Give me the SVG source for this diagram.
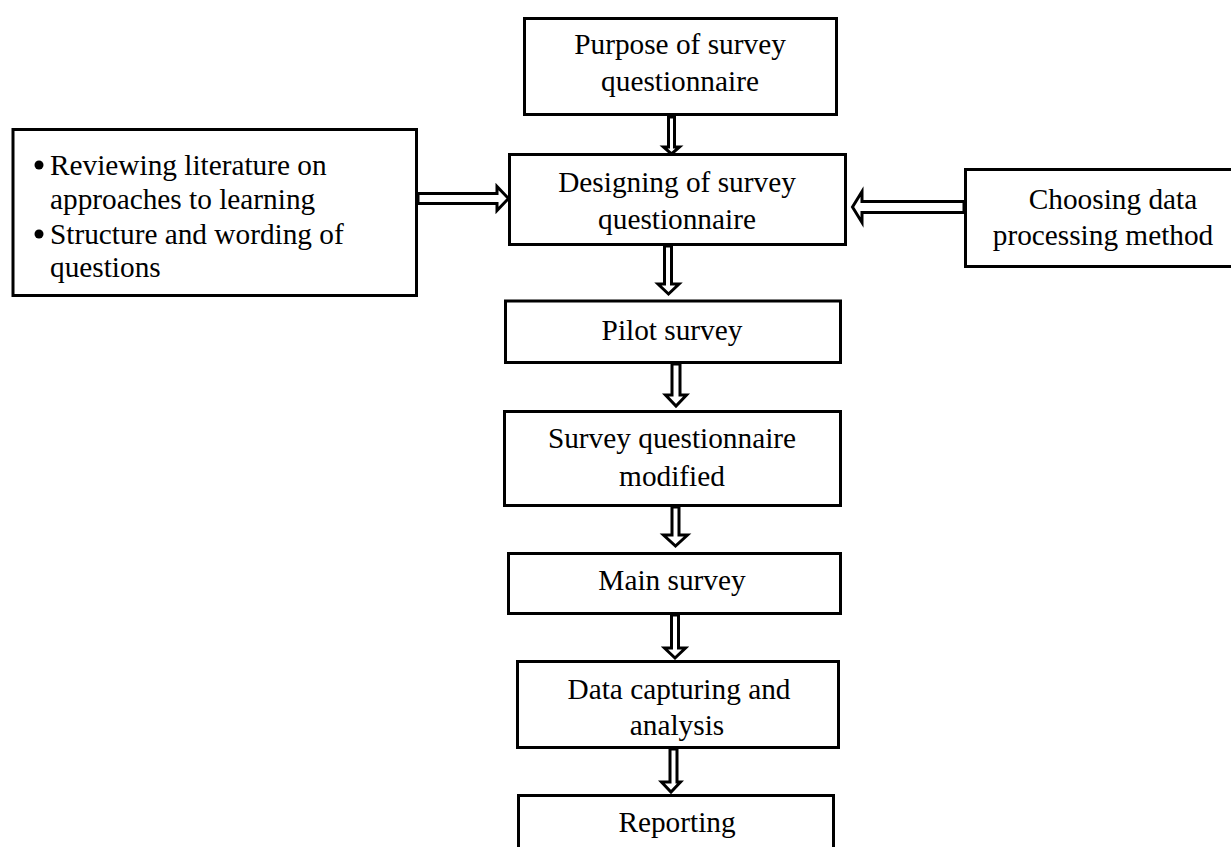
<svg xmlns="http://www.w3.org/2000/svg" width="1231" height="847" viewBox="0 0 1231 847">
<style>
.box{fill:#fff;stroke:#000;stroke-width:3}
.arr{fill:#fff;stroke:#000;stroke-width:3;stroke-linejoin:miter;stroke-miterlimit:10}
text{font-family:"Liberation Serif","Times New Roman",serif;font-size:29.3px;fill:#000}
.c{text-anchor:middle}
</style>
<rect width="1231" height="847" fill="#fff"/>
<g id="connectors">
<polygon class="arr" points="668.5,117 668.5,147 663.5,147 671.5,154 679.5,147 674.5,147 674.5,117"/>
<polygon class="arr" points="664.5,246 664.5,284 658,284 668.5,294 679,284 671.5,284 671.5,246"/>
<polygon class="arr" points="672,364 672,395 665.5,395 676,406 686.5,395 680,395 680,364"/>
<polygon class="arr" points="672,507 672,535 663.5,535 675.5,546 687.5,535 679,535 679,507"/>
<polygon class="arr" points="671.5,615 671.5,648 664.5,648 675,658 685.5,648 678.5,648 678.5,615"/>
<polygon class="arr" points="670,749 670,782 661.5,782 671,792 680.5,782 677,782 677,749"/>
<polygon class="arr" points="418,193.5 497,193.5 497,186.5 508.5,198.5 497,210.5 497,203.5 418,203.5"/>
<polygon class="arr" points="964,201.5 862,201.5 862,191.5 852.5,207 862,222.5 862,212.5 964,212.5"/>
</g>
<g id="purpose">
<rect class="box" x="524.5" y="18.5" width="312" height="96"/>
<text class="c" x="680" y="54">Purpose of survey</text>
<text class="c" x="680" y="91">questionnaire</text>
</g>
<g id="designing">
<rect class="box" x="509.5" y="154.5" width="336" height="90"/>
<text class="c" x="677" y="192">Designing of survey</text>
<text class="c" x="677" y="229">questionnaire</text>
</g>
<g id="review">
<rect class="box" x="13" y="129.5" width="403.5" height="166"/>
<circle cx="39" cy="165" r="4.5"/>
<text x="50" y="175">Reviewing literature on</text>
<text x="50" y="209">approaches to learning</text>
<circle cx="39" cy="234" r="4.5"/>
<text x="50" y="244">Structure and wording of</text>
<text x="50" y="277">questions</text>
</g>
<g id="choosing">
<rect class="box" x="965.5" y="169.5" width="270" height="97"/>
<text class="c" x="1113" y="209">Choosing data</text>
<text class="c" x="1103" y="245">processing method</text>
</g>
<g id="pilot">
<rect class="box" x="505.5" y="301" width="335" height="61.5"/>
<text class="c" x="672" y="340">Pilot survey</text>
</g>
<g id="modified">
<rect class="box" x="504.5" y="411.5" width="336" height="94"/>
<text class="c" x="672" y="448">Survey questionnaire</text>
<text class="c" x="672" y="486">modified</text>
</g>
<g id="main">
<rect class="box" x="508.5" y="553.5" width="332" height="60"/>
<text class="c" x="672" y="590">Main survey</text>
</g>
<g id="data">
<rect class="box" x="517.5" y="661.5" width="321" height="86"/>
<text class="c" x="679" y="699">Data capturing and</text>
<text class="c" x="677" y="735">analysis</text>
</g>
<g id="reporting">
<rect class="box" x="518.5" y="795.5" width="315" height="60"/>
<text class="c" x="677" y="832">Reporting</text>
</g>
</svg>
